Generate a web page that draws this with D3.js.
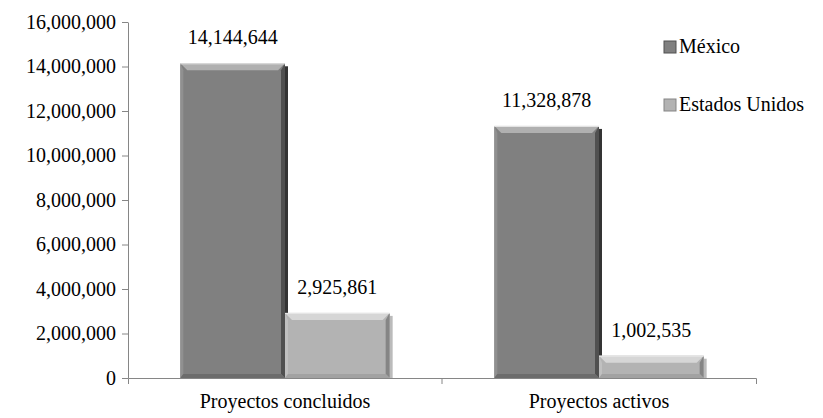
<!DOCTYPE html>
<html>
<head>
<meta charset="utf-8">
<script src="https://cdn.jsdelivr.net/npm/d3@7"></script>
<style>
  svg text { font-family: 'Liberation Serif', serif !important; }
</style>
</head>
<body style="margin:0">
<svg id="chart" width="823" height="418" font-family="Liberation Serif"></svg>
<script>
// DATA
var categories = ['Proyectos concluidos', 'Proyectos activos'];
var seriesNames = ['México', 'Estados Unidos'];
var mexicoValues = [14144644, 11328878];
var usaValues = [2925861, 1002535];
var yTicks = [0, 2000000, 4000000, 6000000, 8000000, 10000000, 12000000, 14000000, 16000000];

var FONT = 'Liberation Serif';

// colours per series: face, top, left, right, bottom
var palette = [
    { face: '#808080', top: '#b0b0b0', left: '#909090', right: '#505050', bottom: '#6c6c6c' },
    { face: '#b3b3b3', top: '#d6d6d6', left: '#c0c0c0', right: '#858585', bottom: '#a2a2a2' }
];

var svg = d3.select('#chart');
var margin = { left: 128, right: 67, top: 22, bottom: 40 };
var W = 823, H = 418;

var x0 = d3.scaleBand().domain(categories).range([margin.left, W - margin.right]).padding(0);
var x1 = d3.scaleBand().domain(seriesNames)
    .range([x0.bandwidth() / 6, x0.bandwidth() * 5 / 6]).padding(0);
var y = d3.scaleLinear().domain([0, 16000000]).range([H - margin.bottom, margin.top]);

var fmt = d3.format(',');

// y axis
var yAxis = d3.axisLeft(y).tickValues(yTicks).tickSize(6).tickSizeOuter(0).tickFormat(fmt);
var gy = svg.append('g').attr('transform', 'translate(' + margin.left + ',0)').call(yAxis);
gy.attr('font-family', FONT).attr('font-size', 20);
gy.select('.domain').attr('stroke', '#868686');
gy.selectAll('.tick line').attr('stroke', '#868686');
gy.selectAll('.tick text').attr('x', -12).attr('fill', '#000');

// bars
var data = [];
categories.forEach(function(c, i){
    data.push({ cat: c, s: 0, v: mexicoValues[i] });
    data.push({ cat: c, s: 1, v: usaValues[i] });
});

var b = 7; // bevel size
var bars = svg.append('g').selectAll('g').data(data).enter().append('g');

bars.each(function(d){
    var g = d3.select(this);
    var xa = x0(d.cat) + x1(seriesNames[d.s]);
    var xb = xa + x1.bandwidth();
    var ya = y(d.v);
    var yb = y(0);
    var col = palette[d.s];
    var bb = Math.min(b, (yb - ya) / 2);
    // shadow on the right side
    g.append('rect').attr('x', xb).attr('y', ya + 3).attr('width', 3).attr('height', yb - ya - 3)
        .attr('fill', '#1e1e1e').attr('opacity', d.s === 0 ? 0.9 : 0.3);
    g.append('rect').attr('x', xa).attr('y', ya).attr('width', xb - xa).attr('height', yb - ya)
        .attr('fill', col.face);
    var poly = function(pts, fill){
        g.append('polygon').attr('points', pts.map(function(p){ return p.join(','); }).join(' '))
            .attr('fill', fill);
    };
    poly([[xa, ya], [xb, ya], [xb - bb, ya + bb], [xa + bb, ya + bb]], col.top);
    poly([[xa, ya], [xa + 3, ya + bb], [xa + 3, yb - 4], [xa, yb]], col.left);
    poly([[xb, ya], [xb, yb], [xb - 4, yb - 4], [xb - 4, ya + bb]], col.right);
    poly([[xa, yb], [xb, yb], [xb - 4, yb - 4], [xa + 3, yb - 4]], col.bottom);
    g.append('line').attr('x1', xa).attr('x2', xb).attr('y1', ya + 0.5).attr('y2', ya + 0.5)
        .attr('stroke', '#e8e8e8').attr('stroke-width', 1);
    // value label
    g.append('text').attr('x', (xa + xb) / 2).attr('y', ya - 19)
        .attr('text-anchor', 'middle').attr('font-size', 20).text(fmt(d.v));
});

// x axis
var xAxis = d3.axisBottom(x0).tickSize(6).tickSizeOuter(6).tickFormat('');
var gx = svg.append('g').attr('transform', 'translate(0,' + y(0) + ')').call(xAxis);
gx.attr('font-family', FONT);
gx.select('.domain').attr('stroke', '#868686');
gx.selectAll('.tick line').attr('stroke', '#868686').attr('transform', 'translate(' + (x0.bandwidth() / 2) + ',0)');
gx.selectAll('.tick').filter(function(d, i){ return i === categories.length - 1; }).select('line').remove();
svg.append('g').selectAll('text').data(categories).enter().append('text')
    .attr('x', function(d){ return x0(d) + x0.bandwidth() / 2; })
    .attr('y', y(0) + 30).attr('text-anchor', 'middle').attr('font-size', 20)
    .text(function(d){ return d; });

// legend
var legend = svg.append('g').selectAll('g').data(seriesNames).enter().append('g')
    .attr('transform', function(d, i){ return 'translate(664,' + (41 + i * 58) + ')'; });
legend.append('rect').attr('width', 12).attr('height', 12)
    .attr('fill', function(d, i){ return palette[i].face; })
    .attr('stroke', function(d, i){ return palette[i].right; }).attr('stroke-width', 1);
legend.append('text').attr('x', 15).attr('y', 12).attr('font-size', 20)
    .text(function(d){ return d; });

// same font on every label
svg.selectAll('text').attr('font-family', FONT);
</script>
</body>
</html>
